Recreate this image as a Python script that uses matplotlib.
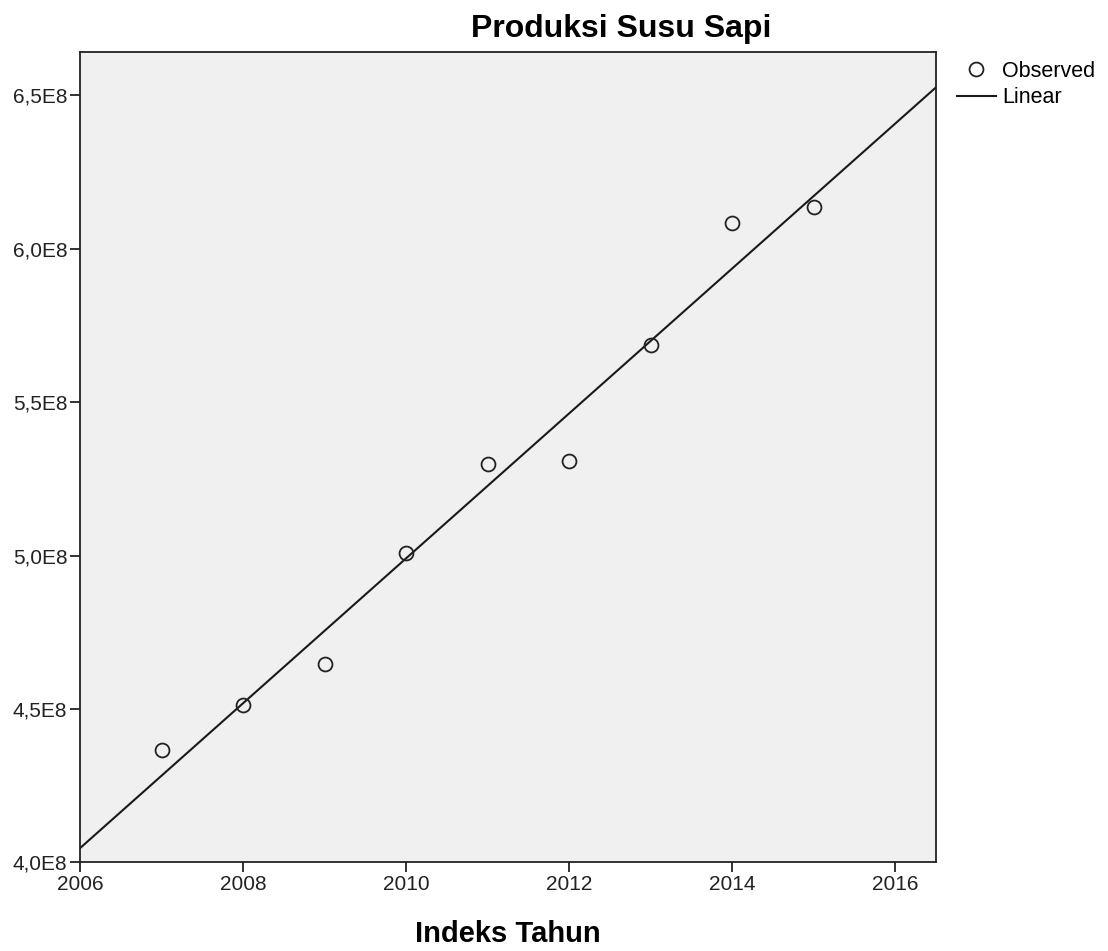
import matplotlib.pyplot as plt
import numpy as np
from matplotlib.ticker import FuncFormatter

plt.rcParams['font.family'] = ['Liberation Sans', 'DejaVu Sans']

# ---------------- data ----------------
tahun = [2007, 2008, 2009, 2010, 2011, 2012, 2013, 2014, 2015]
produksi = [4.365e8, 4.513e8, 4.647e8, 5.010e8, 5.299e8, 5.308e8, 5.685e8, 6.084e8, 6.136e8]

x_ticks = [2006, 2008, 2010, 2012, 2014, 2016]
y_ticks = [4.0e8, 4.5e8, 5.0e8, 5.5e8, 6.0e8, 6.5e8]


def spss_fmt(v, pos):
    return f"{v/1e8:.1f}E8".replace(".", ",")


fig = plt.figure(figsize=(11.08, 9.51), dpi=100)
ax = fig.add_axes([0.0722, 0.0931, 0.7726, 0.8527])
ax.set_facecolor('#f0f0f0')

# linear fit through observed points
coef = np.polyfit(tahun, produksi, 1)
xl = np.array([2006, 2016.5])
ax.plot(xl, np.polyval(coef, xl), c='#1a1a1a', lw=1.5, label='Linear', zorder=2)

ax.plot(tahun, produksi, 'o', ms=10, mfc='none', mec='#222222', mew=1.3,
        label='Observed', zorder=3)

ax.set_xlim(2006, 2016.5)
ax.set_ylim(4.0e8, 6.643e8)
ax.set_xticks(x_ticks)
ax.set_yticks(y_ticks)
ax.yaxis.set_major_formatter(FuncFormatter(spss_fmt))
ax.tick_params(direction='out', length=7, width=1.3, labelsize=15,
               colors='#222222', pad=2)

for s in ax.spines.values():
    s.set_linewidth(1.3)
    s.set_color('#222222')

fig.text(0.561, 0.961, "Produksi Susu Sapi", ha='center', va='baseline',
         fontsize=23, fontweight='bold')
fig.text(0.4585, 0.003, "Indeks Tahun", ha='center', va='bottom',
         fontsize=21, fontweight='bold')

h, l = ax.get_legend_handles_labels()
fig.legend(h[::-1], l[::-1], loc='upper left', bbox_to_anchor=(0.856, 0.945),
           frameon=False, fontsize=15.5, handlelength=1.8, handletextpad=0.28,
           labelspacing=0.25, borderaxespad=0)

fig.savefig("out.png", dpi=100)
